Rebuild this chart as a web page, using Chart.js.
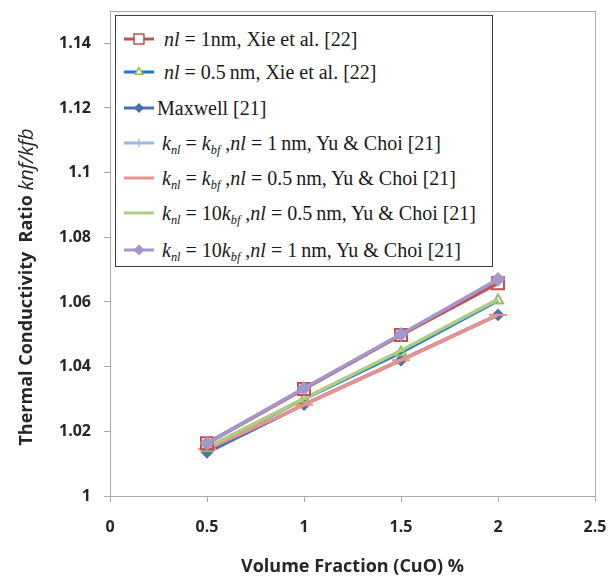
<!DOCTYPE html>
<html>
<head>
<meta charset="utf-8">
<script src="https://cdn.jsdelivr.net/npm/chart.js@4.4.1/dist/chart.umd.min.js"></script>
<style>
  html, body { margin: 0; padding: 0; background: #fff; }
  #wrap { position: relative; width: 616px; height: 581px; }
  #legend {
    position: absolute; left: 115px; top: 15px; width: 376px; height: 250px;
    border: 1.5px solid #404040; background: #fff;
    font-family: "Liberation Serif", "Times New Roman", serif; font-size: 20px; color: #1a1a1a;
  }
  .row { position: absolute; left: 0; height: 26px; white-space: nowrap; }
  .row canvas { position: absolute; left: 6px; top: 0; }
  .row span { position: absolute; top: 0; line-height: 26px; }
  sub { font-size: 0.62em; vertical-align: -0.32em; line-height: 0; }
</style>
</head>
<body>
<div id="wrap">
  <canvas id="chart" width="616" height="581"></canvas>
  <div id="legend"></div>
</div>
<script>
// x positions (volume fraction %)
const volumeFraction = [0.5, 1, 1.5, 2];

// series
const xie1nm       = [1.0163, 1.0331, 1.0498, 1.0658];
const xie05nm      = [1.0148, 1.0300, 1.0444, 1.0605];
const maxwell      = [1.0135, 1.0283, 1.0420, 1.0560];
const yuKbf1nm     = [1.0162, 1.0332, 1.0499, 1.0668];
const yuKbf05nm    = [1.0145, 1.0282, 1.0420, 1.0560];
const yu10Kbf05nm  = [1.0150, 1.0301, 1.0450, 1.0608];
const yu10Kbf1nm   = [1.0163, 1.0333, 1.0500, 1.0670];

// tick labels
const xTicks = [0, 0.5, 1, 1.5, 2, 2.5];
const yTicks = [1, 1.02, 1.04, 1.06, 1.08, 1.1, 1.12, 1.14];

// legend text
const legendHtml = [
  '<i>nl</i> = 1nm, Xie et al. [22]',
  '<i>nl</i> = 0.5\u2009nm, Xie et al. [22]',
  'Maxwell [21]',
  '<i>k<sub>nl</sub></i> = <i>k<sub>bf</sub></i> ,<i>nl</i> = 1\u2009nm, Yu &amp; Choi [21]',
  '<i>k<sub>nl</sub></i> = <i>k<sub>bf</sub></i> ,<i>nl</i> = 0.5\u2009nm, Yu &amp; Choi [21]',
  '<i>k<sub>nl</sub></i> = 10<i>k<sub>bf</sub></i> ,<i>nl</i> = 0.5\u2009nm, Yu &amp; Choi [21]',
  '<i>k<sub>nl</sub></i> = 10<i>k<sub>bf</sub></i> ,<i>nl</i> = 1\u2009nm, Yu &amp; Choi [21]'
];
const seriesNames = [
  'nl = 1 nm, Xie et al. [22]',
  'nl = 0.5 nm, Xie et al. [22]',
  'Maxwell [21]',
  'knl = kbf, nl = 1 nm, Yu & Choi [21]',
  'knl = kbf, nl = 0.5 nm, Yu & Choi [21]',
  'knl = 10kbf, nl = 0.5 nm, Yu & Choi [21]',
  'knl = 10kbf, nl = 1 nm, Yu & Choi [21]'
];

const axisGray = '#ababab';
const textColor = '#262626';

function pts(values) {
  return volumeFraction.map((x, i) => ({ x: x, y: values[i] }));
}

// line colour, marker colour, marker style, marker size, marker fill, draw order
const styles = [
  { line: '#c0504d', mark: '#c0504d', style: 'rect',    r: 8.5, fill: 'rgba(255,255,255,0)', order: 1 },
  { line: '#1f78c8', mark: '#9bbb59', style: 'triangle', r: 6,  fill: 'rgba(255,255,255,0)', order: 5 },
  { line: '#4672b0', mark: '#4672b0', style: 'rectRot',  r: 5,  fill: '#4672b0', order: 6 },
  { line: '#9db8dc', mark: '#9db8dc', style: 'crossRot', r: 0,  fill: '#9db8dc', order: 3 },
  { line: '#e8918f', mark: '#e8918f', style: 'line',     r: 9,  fill: '#e8918f', order: 4 },
  { line: '#aecd82', mark: '#aecd82', style: 'circle',   r: 0,  fill: '#aecd82', order: 2 },
  { line: '#a596cd', mark: '#a596cd', style: 'rectRot',  r: 6,  fill: '#a596cd', order: 0 }
];
const seriesValues = [xie1nm, xie05nm, maxwell, yuKbf1nm, yuKbf05nm, yu10Kbf05nm, yu10Kbf1nm];

const datasets = seriesValues.map((vals, i) => ({
  label: seriesNames[i],
  data: pts(vals),
  borderColor: styles[i].line,
  backgroundColor: styles[i].fill,
  borderWidth: 3.5,
  pointStyle: styles[i].style,
  pointRadius: styles[i].r,
  pointBorderColor: styles[i].mark,
  pointBackgroundColor: styles[i].fill,
  pointBorderWidth: 2,
  tension: 0,
  order: styles[i].order
}));

const frameAndTitle = {
  id: 'frameAndTitle',
  beforeDatasetsDraw(chart) {
    const { ctx, chartArea: a } = chart;
    ctx.save();
    ctx.strokeStyle = axisGray;
    ctx.lineWidth = 1;
    ctx.strokeRect(Math.round(a.left) + 0.5, Math.round(a.top) + 0.5,
                   Math.round(a.right - a.left), Math.round(a.bottom - a.top));
    ctx.restore();
  },
  afterDraw(chart) {
    const ctx = chart.ctx;
    const part1 = 'Thermal Conductivity  Ratio ';
    const part2 = 'knf/kfb';
    const boldFont = 'bold 18px "Open Sans"';
    const italFont = 'italic 20px "Open Sans"';
    ctx.save();
    ctx.translate(27, 287);
    ctx.rotate(-Math.PI / 2);
    ctx.font = boldFont;
    const w1 = ctx.measureText(part1).width;
    ctx.font = italFont;
    const w2 = ctx.measureText(part2).width;
    const x0 = -(w1 + w2) / 2;
    ctx.textBaseline = 'middle';
    ctx.fillStyle = textColor;
    ctx.font = boldFont;
    ctx.fillText(part1, x0, 0);
    ctx.font = italFont;
    ctx.fillText(part2, x0 + w1, 0);
    ctx.restore();
  }
};

function fmt(v) {
  return String(parseFloat(Number(v).toFixed(2)));
}

const ctx = document.getElementById('chart').getContext('2d');
const chart = new Chart(ctx, {
  type: 'line',
  data: { datasets: datasets },
  options: {
    responsive: false,
    animation: false,
    layout: { padding: { left: 0, right: 21, top: 0, bottom: 0 } },
    plugins: {
      legend: { display: false },
      tooltip: { enabled: false }
    },
    scales: {
      x: {
        type: 'linear',
        min: 0,
        max: 2.5,
        afterBuildTicks: scale => { scale.ticks = xTicks.map(v => ({ value: v })); },
        afterFit: scale => {
          scale.height = 85;
          scale.paddingLeft = 0;
          scale.paddingRight = 0;
        },
        ticks: {
          padding: 16,
          color: textColor,
          font: { family: 'Open Sans', size: 16, weight: 'bold' },
          maxRotation: 0,
          callback: v => fmt(v)
        },
        grid: { drawOnChartArea: false, color: axisGray, tickLength: 6 },
        border: { color: axisGray },
        title: {
          display: true,
          text: 'Volume Fraction (CuO) %',
          color: textColor,
          font: { family: 'Open Sans', size: 18, weight: 'bold' },
          padding: { top: 0, bottom: 3 }
        }
      },
      y: {
        type: 'linear',
        min: 1,
        max: 1.15,
        afterBuildTicks: scale => { scale.ticks = yTicks.map(v => ({ value: v })); },
        afterFit: scale => {
          scale.width = 110;
          scale.paddingTop = 0;
          scale.paddingBottom = 0;
        },
        ticks: {
          padding: 13,
          color: textColor,
          font: { family: 'Open Sans', size: 16, weight: 'bold' },
          callback: v => fmt(v)
        },
        grid: { drawOnChartArea: false, color: axisGray, tickLength: 6 },
        border: { color: axisGray },
        title: { display: false }
      }
    }
  },
  plugins: [frameAndTitle]
});

// legend box with subscripts, samples drawn with Chart.js point helper
const rowCenters = [23, 56, 92, 127, 162, 197, 234];
const textLeft = [48, 48, 41, 46, 46, 46, 46];
const legendMarks = [
  { style: 'rect', r: 7, fill: '#ffffff' },
  { style: 'triangle', r: 4.5, fill: '#ffffff' },
  { style: 'rectRot', r: 4, fill: null },
  { style: 'cross', r: 4, fill: null },
  null,
  null,
  { style: 'rectRot', r: 4.5, fill: null }
];
const legend = document.getElementById('legend');
legendHtml.forEach((html, i) => {
  const row = document.createElement('div');
  row.className = 'row';
  row.style.top = (rowCenters[i] - 13) + 'px';
  row.style.width = '376px';
  const c = document.createElement('canvas');
  c.width = 34; c.height = 26;
  row.appendChild(c);
  const span = document.createElement('span');
  span.style.left = textLeft[i] + 'px';
  span.innerHTML = html;
  row.appendChild(span);
  legend.appendChild(row);

  const g = c.getContext('2d');
  g.strokeStyle = styles[i].line;
  g.lineWidth = 3;
  g.beginPath();
  g.moveTo(2, 13);
  g.lineTo(32, 13);
  g.stroke();
  const m = legendMarks[i];
  if (m && Chart.helpers && Chart.helpers.drawPoint) {
    g.strokeStyle = styles[i].mark;
    g.fillStyle = m.fill || styles[i].fill;
    g.lineWidth = 1.5;
    Chart.helpers.drawPoint(g, { pointStyle: m.style, radius: m.r, borderWidth: 1.5, rotation: 0 }, 17, 13);
  }
});
</script>
</body>
</html>
